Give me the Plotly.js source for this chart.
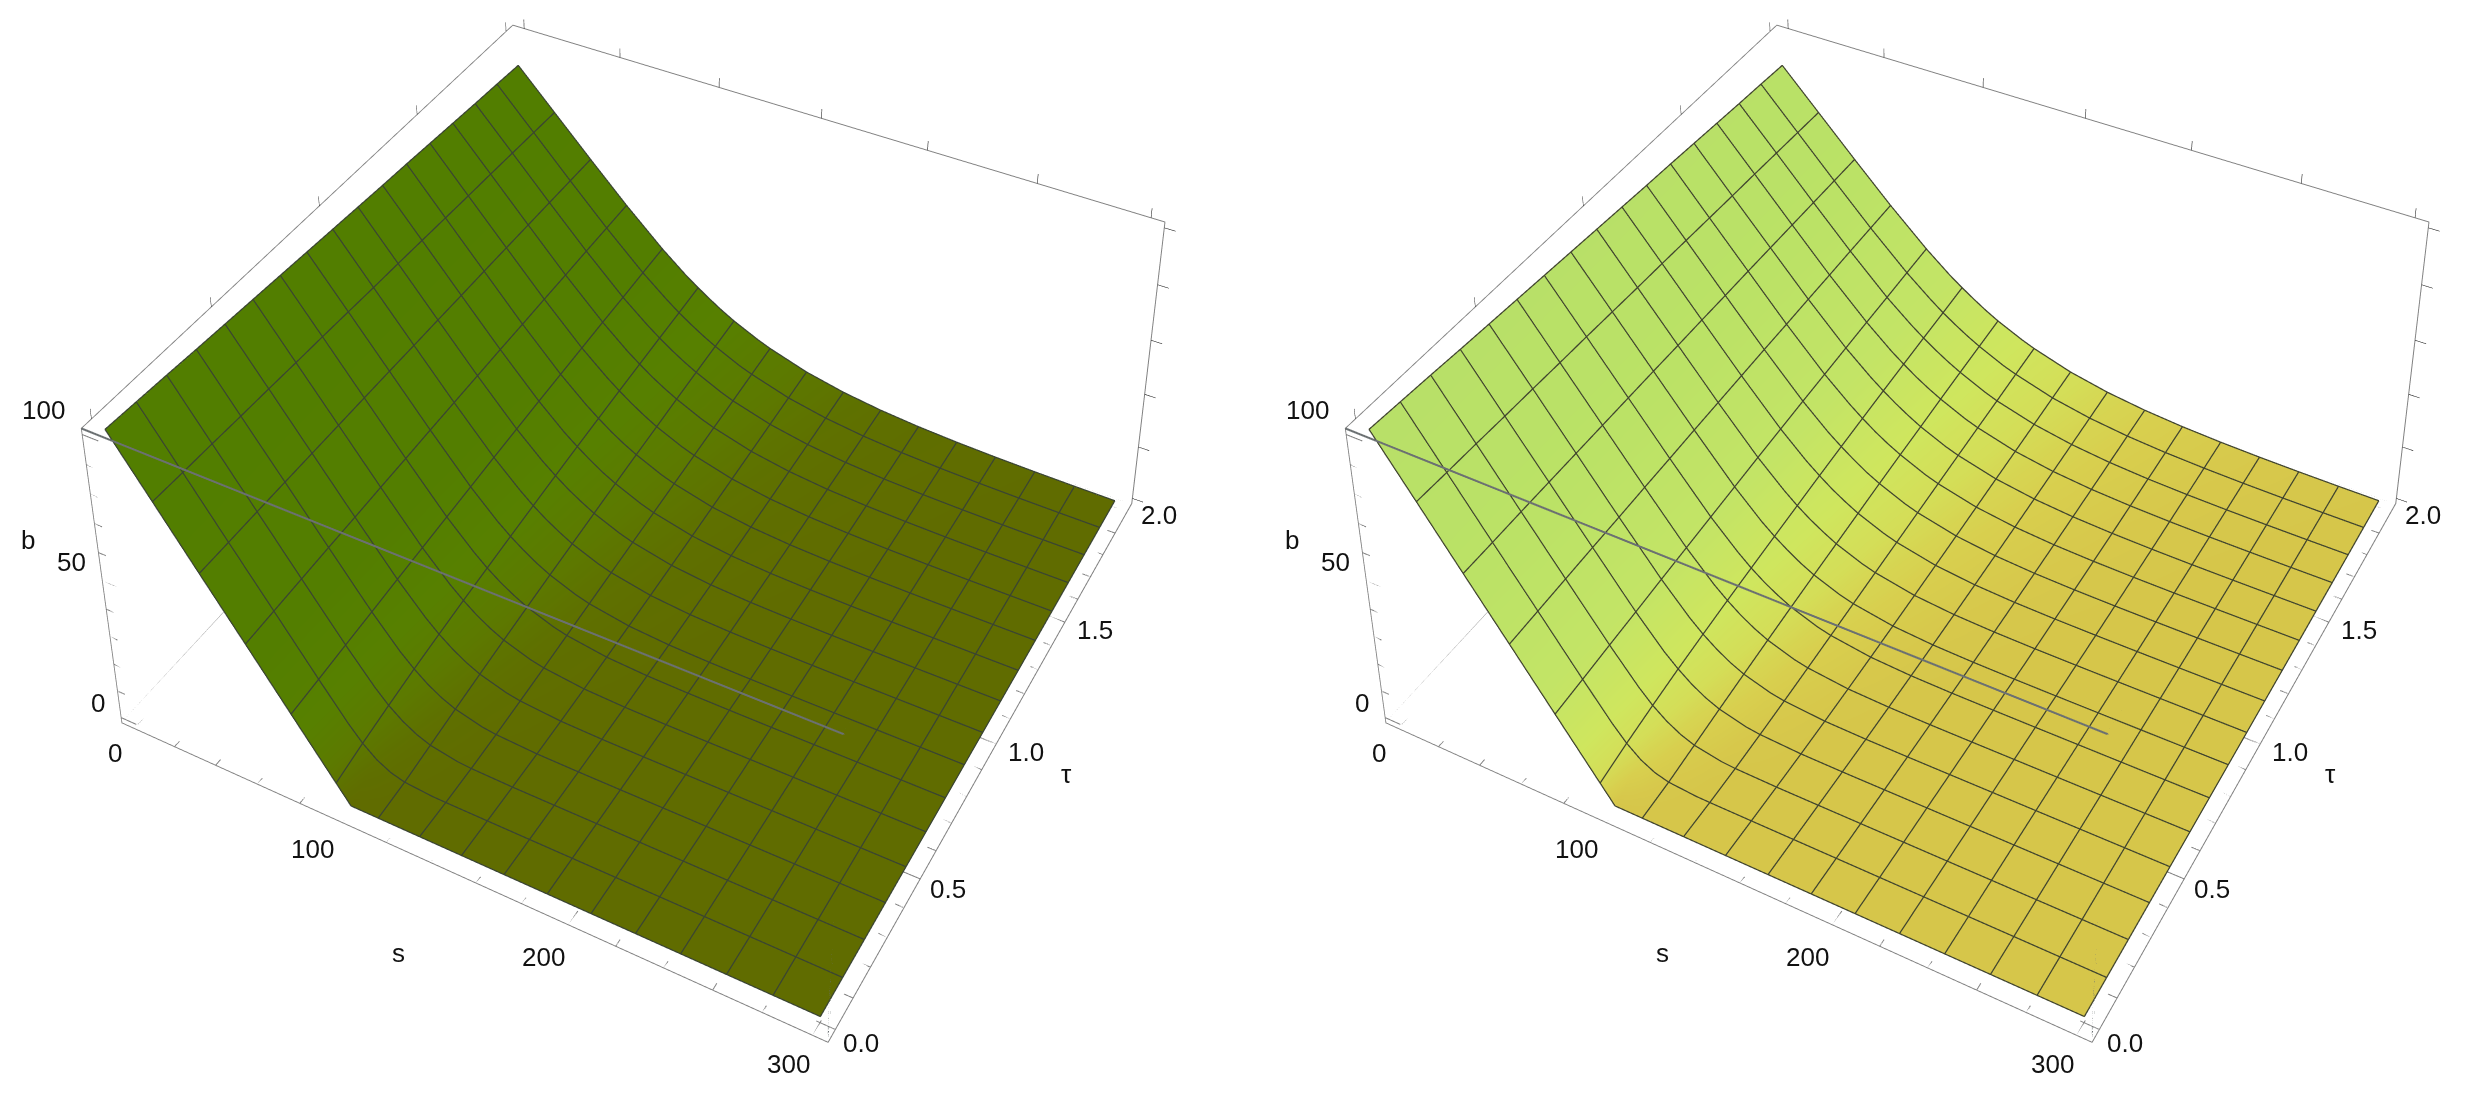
<!DOCTYPE html><html><head><meta charset="utf-8"><script src="https://cdn.plot.ly/plotly-3.0.1.min.js"></script>
<style>html,body{margin:0;background:#fff;overflow:hidden;height:1100px}#g{position:absolute;left:0;top:-1233px}</style></head><body><div id="g"></div>
<script>
var sValues=[0,18.75,37.5,56.25,75,87.5,93.75,100,106.25,112.5,125,131.25,150,168.75,187.5,206.25,225,243.75,262.5,281.25,300];
var tauValues=[0,.125,.25,.375,.5,.625,.75,.875,1,1.125,1.25,1.375,1.5,1.625,1.75,1.875,2];
var bValues=[
[100.0,81.3,62.5,43.8,25.0,12.5,6.25,0,0,0,0,0,0,0,0,0,0,0,0,0,0],
[99.4,81.0,62.6,44.3,25.9,14.0,8.78,4.78,2.22,0.88,0.09,0.02,0,0,0,0,0,0,0,0,0],
[98.8,80.8,62.8,44.8,26.9,15.7,10.9,7.14,4.34,2.46,0.66,0.31,0.03,0,0,0,0,0,0,0,0],
[98.1,80.5,62.9,45.3,27.8,17.2,12.8,9.07,6.17,4.04,1.54,0.91,0.16,0.02,0,0,0,0,0,0,0],
[97.5,80.3,63.0,45.7,28.8,18.7,14.4,10.8,7.83,5.53,2.57,1.69,0.44,0.10,0.02,0,0,0,0,0,0],
[96.9,80.0,63.1,46.2,29.7,20.0,15.9,12.3,9.35,6.96,3.65,2.58,0.85,0.26,0.07,0.02,0.01,0,0,0,0],
[96.3,79.8,63.2,46.6,30.6,21.3,17.2,13.7,10.8,8.31,4.75,3.53,1.37,0.50,0.17,0.06,0.02,0.01,0,0,0],
[95.7,79.5,63.3,47.1,31.5,22.4,18.5,15.1,12.1,9.61,5.86,4.51,1.97,0.82,0.33,0.13,0.05,0.02,0.01,0,0],
[95.1,79.2,63.3,47.5,32.4,23.6,19.7,16.3,13.4,10.8,6.95,5.50,2.63,1.21,0.54,0.24,0.11,0.05,0.02,0.01,0],
[94.5,79.0,63.4,47.9,33.2,24.6,20.9,17.5,14.6,12.0,8.03,6.50,3.34,1.67,0.81,0.39,0.19,0.09,0.04,0.02,0.01],
[93.9,78.7,63.4,48.3,34.0,25.6,22.0,18.7,15.7,13.2,9.09,7.49,4.09,2.17,1.14,0.59,0.31,0.16,0.08,0.04,0.02],
[93.4,78.4,63.5,48.6,34.7,26.6,23.0,19.7,16.8,14.3,10.1,8.47,4.86,2.73,1.51,0.83,0.46,0.25,0.14,0.08,0.04],
[92.8,78.1,63.5,49.0,35.4,27.5,24.0,20.8,17.9,15.3,11.1,9.44,5.65,3.32,1.93,1.11,0.64,0.37,0.22,0.13,0.07],
[92.2,77.9,63.5,49.3,36.1,28.3,24.9,21.7,18.9,16.4,12.1,10.4,6.44,3.94,2.38,1.44,0.87,0.52,0.32,0.19,0.12],
[91.6,77.6,63.5,49.7,36.7,29.2,25.8,22.7,19.9,17.4,13.1,11.3,7.25,4.58,2.87,1.79,1.12,0.70,0.44,0.28,0.18],
[91.1,77.3,63.5,50.0,37.4,30.0,26.6,23.6,20.8,18.3,14.0,12.3,8.06,5.24,3.39,2.18,1.41,0.91,0.59,0.39,0.25],
[90.5,77.0,63.5,50.3,38.0,30.7,27.5,24.5,21.7,19.2,15.0,13.2,8.86,5.91,3.93,2.60,1.73,1.15,0.77,0.51,0.35]];
var sTicks=[0,20,40,60,80,100,120,140,160,180,200,220,240,260,280,300];
var tauTicks=[0,.1,.2,.3,.4,.5,.6,.7,.8,.9,1,1.1,1.2,1.3,1.4,1.5,1.6,1.7,1.8,1.9,2];
var bTicks=[0,10,20,30,40,50,60,70,80,90,100];
var sMajor=[0,100,200,300],tauMajor=[0,.5,1,1.5,2],bMajor=[0,50,100];
var sLabels=['0','100','200','300'],tauLabels=['0.0','0.5','1.0','1.5','2.0'],bLabels=['0','50','100'];
var sRange=[-6,306],tauRange=[-.04,2.04],bRange=[-2,102];

var sShift=[[-19,-25],[-30,-26],[-25,-32],[-24,-29]],tauShift=[[26,-13],[28,-10],[30,-8],[30,-8],[32,-3]],bShift=[[-23,15],[-31,19],[-38,25]];
var font={family:'Liberation Sans',size:26,color:'#111'};
function lab(x,y,z,text,sh){return{x:x,y:y,z:z,text:text,showarrow:false,xshift:sh[0],yshift:sh[1],font:font}}
var ann=[];
sMajor.forEach(function(v,i){ann.push(lab(v,tauRange[0],bRange[0],sLabels[i],sShift[i]))});
tauMajor.forEach(function(v,i){ann.push(lab(sRange[1],v,bRange[0],tauLabels[i],tauShift[i]))});
bMajor.forEach(function(v,i){ann.push(lab(sRange[0],tauRange[0],v,bLabels[i],bShift[i]))});
ann.push(lab(150,tauRange[0],bRange[0],'s',[-55,-80]),lab(sRange[1],1,bRange[0],'τ',[70,-30]),lab(sRange[0],tauRange[0],50,'b',[-74,41]));

function ax(r){return{range:r,autorange:false,showgrid:false,zeroline:false,showbackground:false,showticklabels:false,ticks:'',title:{text:''},showline:true,mirror:'all',linecolor:'#808080',linewidth:2,showspikes:false}}
function path(sn,col,w,pts){return{type:'scatter3d',mode:'lines',scene:sn,x:pts.map(function(p){return p?p[0]:null}),y:pts.map(function(p){return p?p[1]:null}),z:pts.map(function(p){return p?p[2]:null}),line:{color:col,width:w},hoverinfo:'skip',showlegend:false}}
function ticks(sn){var p=[],s0=sRange[0],s1=sRange[1],t0=tauRange[0],z0=bRange[0];
sTicks.forEach(function(v){p.push([v,t0,z0],[v,t0+(sMajor.indexOf(v)>=0?.047:.022),z0],null)});
tauTicks.forEach(function(v){p.push([s1,v,z0],[s1-(tauMajor.indexOf(v)>=0?7.5:3.6),v,z0],null)});
bTicks.forEach(function(v){p.push([s0,t0,v],[s0+(bMajor.indexOf(v)>=0?7.5:3.6),t0,v],null)});
return path(sn,'#808080',2,p)}
function corner(c){return[sRange[c[0]],tauRange[c[1]],bRange[c[2]]]}
function frontEdges(sn){return path(sn,'#6b7072',4,[[0,0,1],[1,0,1],[1,0,0],[1,0,1],[1,1,1]].map(corner))}
function backEdges(sn){return path(sn,'#808080',3,[[0,0,0],[0,1,0],[0,1,1],[0,1,0],[1,1,0]].map(corner))}
var lift=.25;
function mesh(sn,c){var n=sValues.length,m=tauValues.length,p=[];function pt(i,j){p.push([sValues[i],tauValues[j],bValues[j][i]+lift])}
for(var j=0;j<m;j++){if(j%2==0)for(var i=0;i<n;i++)pt(i,j);else for(var i=n-1;i>=0;i--)pt(i,j)}
var cols=[];for(var i=n-1;i>=0;i--)if(Math.abs(sValues[i]/18.75-Math.round(sValues[i]/18.75))<1e-6)cols.push(i);
var up=false;cols.forEach(function(ci,k){if(up)for(var j=0;j<m;j++)pt(ci,j);else for(var j=m-1;j>=0;j--)pt(ci,j);var row=up?m-1:0;if(k+1<cols.length)for(var i=ci-1;i>cols[k+1];i--)pt(i,row);up=!up});
return path(sn,c,2.5,p)}
function scene(dom){return{domain:{x:dom,y:[109/2400,1]},aspectmode:'manual',aspectratio:{x:1,y:1.0011,z:.4939},camera:{eye:{x:1.2959,y:-2.3936,z:2.4576},center:{x:-.672,y:1.2478,z:0},up:{x:0,y:0,z:1},projection:{type:'perspective'}},xaxis:ax(sRange),yaxis:ax(tauRange),zaxis:ax(bRange),annotations:ann}}
function surf(sn,cs){return{type:'surface',scene:sn,x:sValues,y:tauValues,z:bValues,showscale:false,colorscale:cs,cmin:0,cmax:100,lighting:{ambient:1,diffuse:0,specular:0,roughness:1,fresnel:0},contours:{x:{highlight:false},y:{highlight:false},z:{highlight:false}},hoverinfo:'skip'}}
var c1=[[0,'#606c00'],[.03,'#5f6f00'],[.1,'#5c7a00'],[.2,'#578000'],[.4,'#537e00'],[1,'#527e00']];
var c2=[[0,'#d6c64a'],[.03,'#d8cf4e'],[.08,'#d4de58'],[.15,'#cfe65e'],[.3,'#c3e466'],[.6,'#bbe266'],[1,'#b8e068']];
Plotly.newPlot('g',[surf('scene',c1),ticks('scene'),backEdges('scene'),frontEdges('scene'),mesh('scene','#3a4432'),surf('scene2',c2),ticks('scene2'),backEdges('scene2'),frontEdges('scene2'),mesh('scene2','#40442e')],{width:2600,height:2400,margin:{l:0,r:0,t:0,b:0},scene:scene([21.77/2600,1281.77/2600]),scene2:scene([1285.8/2600,2545.8/2600]),showlegend:false,paper_bgcolor:'#fff'},{displayModeBar:false});
</script></body></html>
